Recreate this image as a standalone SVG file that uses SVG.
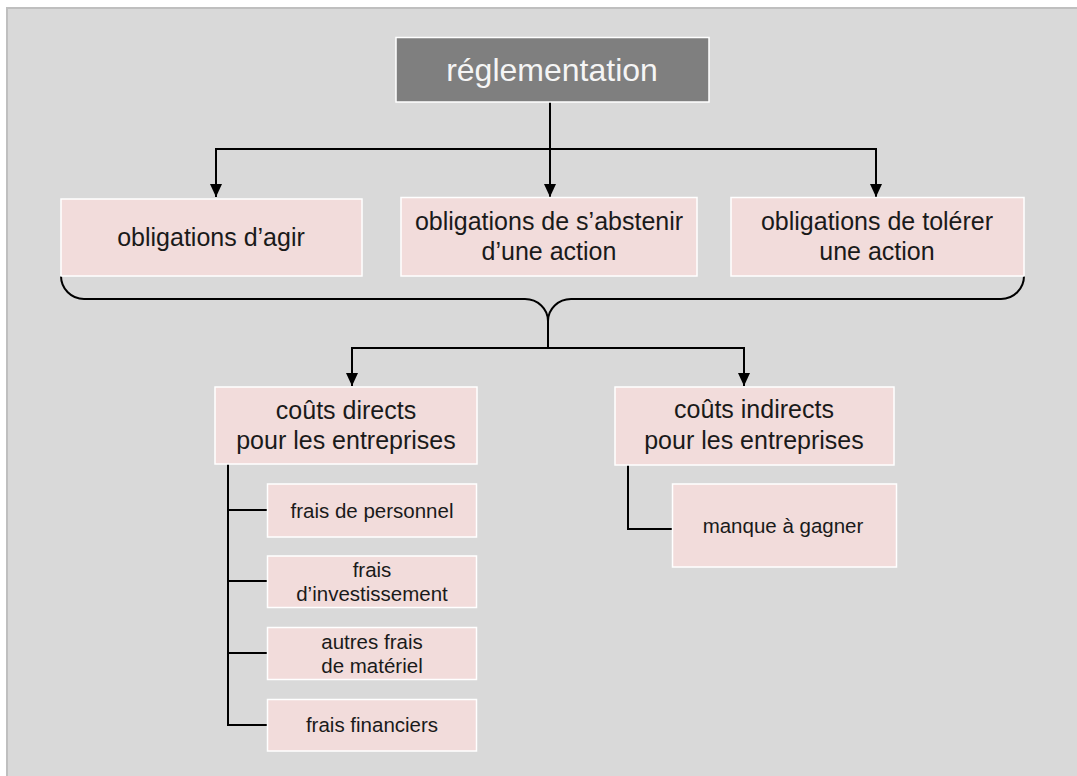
<svg xmlns="http://www.w3.org/2000/svg" width="1077" height="776" viewBox="0 0 1077 776">
<defs>
<style>
.bg{fill:#d9d9d9;stroke:#bfbfbf;stroke-width:2}
.box{fill:#f2dcdb;stroke:#ffffff;stroke-width:1.5}
.top{fill:#7f7f7f;stroke:#ffffff;stroke-width:1.5}
.t{font-family:"Liberation Sans",Arial,sans-serif;fill:#1a1a1a;text-anchor:middle}
.m{font-size:25px}
.s{font-size:20.5px}
.ti{font-size:32px;fill:#f5f5f5}
.ln{fill:none;stroke:#000;stroke-width:2}
</style>
<marker id="arr" markerUnits="userSpaceOnUse" markerWidth="14" markerHeight="14" refX="13" refY="6.5" orient="auto">
<path d="M0,0.5 L13,6.5 L0,12.5 Z" fill="#000"/>
</marker>
</defs>
<rect class="bg" x="7" y="8" width="1080" height="780"/>

<g id="connectors">
<path class="ln" d="M550,102 V197" marker-end="url(#arr)"/>
<path class="ln" d="M550,149 H216 V197" marker-end="url(#arr)"/>
<path class="ln" d="M550,149 H876 V197" marker-end="url(#arr)"/>
<path class="ln" d="M61,276 A23,23 0 0 0 84,299 H525 A23,22 0 0 1 548,321 A23,22 0 0 1 571,299 H1001 A23,23 0 0 0 1024,276"/>
<path class="ln" d="M548,321 V348"/>
<path class="ln" d="M548,348 H352 V386" marker-end="url(#arr)"/>
<path class="ln" d="M548,348 H744 V386" marker-end="url(#arr)"/>
<path class="ln" d="M228,464 V725 H267 M228,510 H267 M228,581 H267 M228,653 H267"/>
<path class="ln" d="M628,465 V529 H672"/>
</g>

<g id="reglementation">
<rect class="top" x="396" y="37.5" width="313" height="64.5"/>
<text class="t ti" x="552" y="81">réglementation</text>
</g>
<g id="obligations-agir">
<rect class="box" x="61" y="199" width="301" height="77"/>
<text class="t m" x="211" y="246">obligations d’agir</text>
</g>
<g id="obligations-abstenir">
<rect class="box" x="401" y="197.5" width="296" height="78.5"/>
<text class="t m" x="549" y="230">obligations de s’abstenir</text>
<text class="t m" x="549" y="259.5">d’une action</text>
</g>
<g id="obligations-tolerer">
<rect class="box" x="731" y="197.5" width="293" height="78.5"/>
<text class="t m" x="877" y="230">obligations de tolérer</text>
<text class="t m" x="877" y="259.5">une action</text>
</g>
<g id="couts-directs">
<rect class="box" x="215" y="387" width="262" height="77"/>
<text class="t m" x="346" y="418.5">coûts directs</text>
<text class="t m" x="346" y="448.5">pour les entreprises</text>
</g>
<g id="couts-indirects">
<rect class="box" x="615" y="387" width="279" height="78"/>
<text class="t m" x="754" y="418">coûts indirects</text>
<text class="t m" x="754" y="448.5">pour les entreprises</text>
</g>
<g id="frais-personnel">
<rect class="box" x="267.5" y="484" width="209" height="53"/>
<text class="t s" x="372" y="517.5">frais de personnel</text>
</g>
<g id="frais-investissement">
<rect class="box" x="267.5" y="556" width="209" height="51.5"/>
<text class="t s" x="372" y="577">frais</text>
<text class="t s" x="372" y="601">d’investissement</text>
</g>
<g id="autres-frais">
<rect class="box" x="267.5" y="627.5" width="209" height="52"/>
<text class="t s" x="372" y="648.5">autres frais</text>
<text class="t s" x="372" y="673">de matériel</text>
</g>
<g id="frais-financiers">
<rect class="box" x="267.5" y="699.5" width="209" height="51.5"/>
<text class="t s" x="372" y="732">frais financiers</text>
</g>
<g id="manque-a-gagner">
<rect class="box" x="672.5" y="484" width="224" height="83"/>
<text class="t s" x="783" y="532.5">manque à gagner</text>
</g>
</svg>
